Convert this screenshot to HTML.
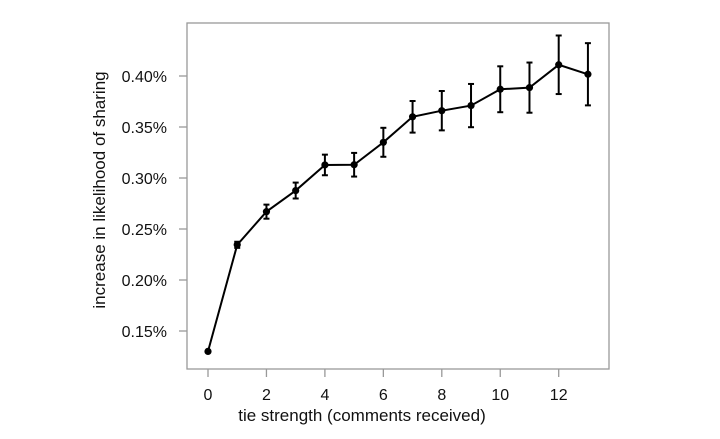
<!DOCTYPE html>
<html><head><meta charset="utf-8"><style>
html,body{margin:0;padding:0;background:#fff;width:720px;height:439px;overflow:hidden}
text{font-family:"Liberation Sans",Arial,sans-serif;fill:#111}
</style></head><body>
<svg id="chart" width="720" height="439" xmlns="http://www.w3.org/2000/svg"></svg>
<script>
const categories=[0,1,2,3,4,5,6,7,8,9,10,11,12,13];
const values=[0.130,0.2345,0.267,0.2877,0.3128,0.313,0.335,0.360,0.366,0.371,0.387,0.3886,0.411,0.4017];
const errors=[0,0.003,0.0069,0.0078,0.0101,0.0116,0.0142,0.0155,0.0193,0.0212,0.0225,0.0246,0.0287,0.0305];
const xTicks=[0,2,4,6,8,10,12];
const yTicks=[0.15,0.20,0.25,0.30,0.35,0.40];
const yTickLabels=["0.15%","0.20%","0.25%","0.30%","0.35%","0.40%"];

const svg=document.getElementById('chart');
const NS="http://www.w3.org/2000/svg";
const L=187,R=609,T=23,B=369;
function xs(v){return 208+(v-0)*(558.7-208)/12;}
function ys(v){return 331-(v-0.15)*(331-76)/0.25;}
function mk(tag,attrs,name){const e=document.createElementNS(NS,tag);for(const k in attrs)e.setAttribute(k,attrs[k]);


svg.appendChild(e);return e;}
mk('rect',{x:L,y:T,width:R-L,height:B-T,fill:'none',stroke:'#999','stroke-width':1.3},'plot-frame');
xTicks.forEach(t=>{const x=xs(t);
mk('line',{x1:x,x2:x,y1:B,y2:B+8,stroke:'#999','stroke-width':1.3},'x-tick');
const tx=mk('text',{x:x,y:B+31,'text-anchor':'middle','font-size':16},'x-tick-label');tx.textContent=t;});
yTicks.forEach((t,i)=>{const y=ys(t);
mk('line',{x1:L-8,x2:L,y1:y,y2:y,stroke:'#999','stroke-width':1.3},'y-tick');
const tx=mk('text',{x:167,y:y+6,'text-anchor':'end','font-size':16},'y-tick-label');tx.textContent=yTickLabels[i];});
const xl=mk('text',{x:362,y:421,'text-anchor':'middle','font-size':17},'x-axis-title');xl.textContent='tie strength (comments received)';
const yl=mk('text',{x:0,y:0,'text-anchor':'middle','font-size':17,transform:'translate(105,190) rotate(-90)'},'y-axis-title');yl.textContent='increase in likelihood of sharing';
let d='';categories.forEach((c,i)=>{d+=(i?'L':'M')+xs(c)+','+ys(values[i]);});
mk('path',{d:d,fill:'none',stroke:'#000','stroke-width':2},'series-line');
categories.forEach((c,i)=>{const x=xs(c);
if(errors[i]>0){const y1=ys(values[i]+errors[i]),y2=ys(values[i]-errors[i]);
mk('line',{x1:x,x2:x,y1:y1,y2:y2,stroke:'#000','stroke-width':2},'error-bar');
mk('line',{x1:x-3,x2:x+3,y1:y1,y2:y1,stroke:'#000','stroke-width':2},'error-cap-top');
mk('line',{x1:x-3,x2:x+3,y1:y2,y2:y2,stroke:'#000','stroke-width':2},'error-cap-bottom');}
mk('circle',{cx:x,cy:ys(values[i]),r:3.6,fill:'#000'},'data-point');});
</script>
</body></html>
